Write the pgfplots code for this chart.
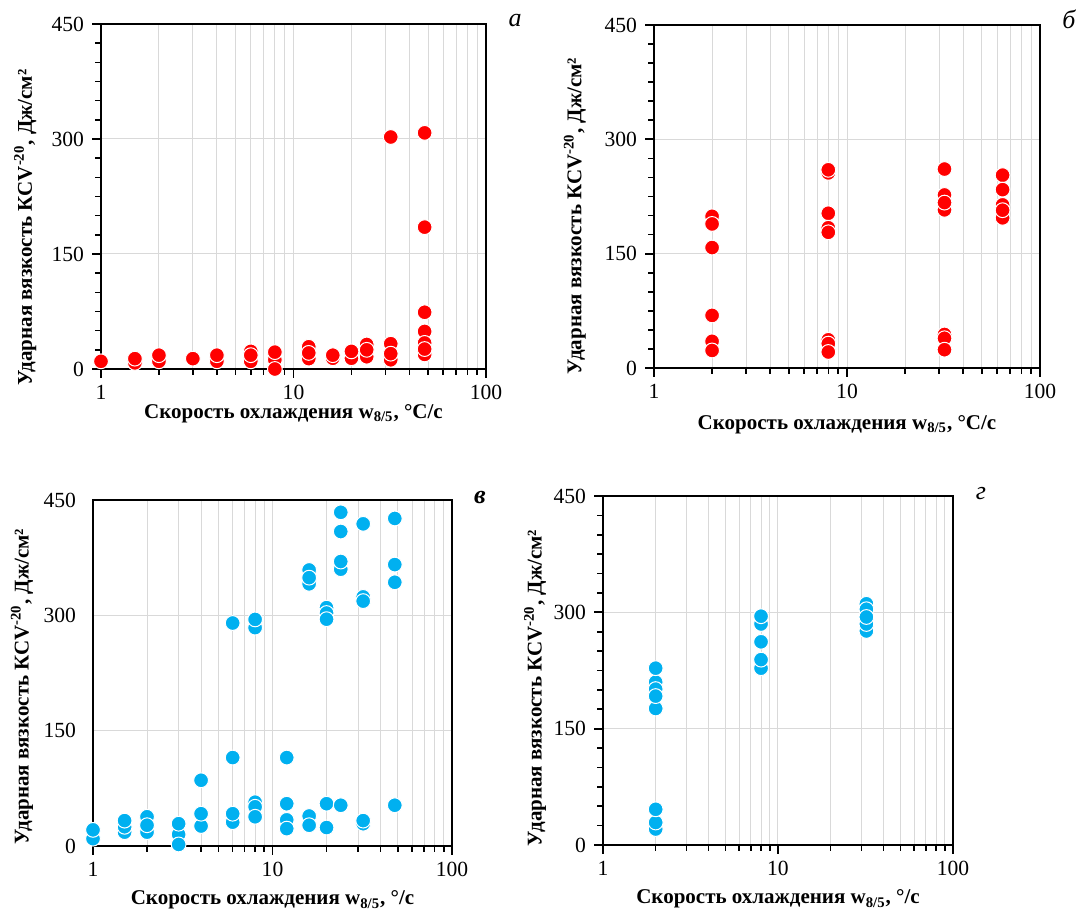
\documentclass[border=0pt]{standalone}
\usepackage{fontspec}
\setmainfont{Liberation Serif}
\usepackage{pgfplots}
\pgfplotsset{compat=1.18}
\definecolor{myred}{RGB}{255,0,0}
\definecolor{myblue}{RGB}{0,176,240}
\definecolor{gridc}{RGB}{217,217,217}
\pgfplotsset{
  every axis/.append style={
    scale only axis, ymin=0, ymax=450,
    xtick={1,10,100}, xticklabels={1,10,100},
    minor xtick={2,3,4,5,6,7,8,9,20,30,40,50,60,70,80,90},
    ytick={0,150,300,450},
    xmajorgrids, xminorgrids, ymajorgrids,
    major grid style={gridc, line width=0.5pt},
    minor grid style={gridc, line width=0.5pt},
    axis line style={line width=1pt},
    tick align=outside, tick pos=left,
    major tick length=4.5pt, minor tick length=3pt,
    tick label style={font=\fontsize{10.8}{12}\selectfont},
    yticklabel style={xshift=-0.5pt},
    label style={font=\bfseries\fontsize{10.5}{12}\selectfont},
    ylabel={Ударная вязкость КСV\textsuperscript{-20}, Дж/см²},
  },
  every tick/.style={black, line width=0.9pt},
  every major tick/.append style={black, line width=0.9pt},
  every minor tick/.append style={black, line width=0.8pt},
}
\begin{document}
\begin{tikzpicture}
\useasboundingbox (0,0) rectangle (539pt,458pt);
% panel a
\begin{axis}[xmode=log, xmin=1, xmax=100, anchor=south west,
  /pgf/number format/assume math mode=true,
  at={(50.5pt,273.5pt)}, width=192.5pt, height=172.5pt,
  minor ytick={25,50,75,100,125,175,200,225,250,275,325,350,375,400,425},
  xlabel={Скорость охлаждения w\textsubscript{8/5}, °C/c},
  xlabel style={at={(axis description cs:0.5,-0.13)}, anchor=center},
  ylabel style={at={(axis description cs:-0.197,0.41)}, anchor=center}]
\addplot[only marks, mark=*, mark size=3.7pt, mark options={fill=myred, draw=white, line width=0.5pt}] coordinates {
(1,10) (1.5,8) (1.5,13.5) (2,10) (2,18) (3,13.5) (4,10) (4,18)
(6,10) (6,23) (6,18) (8,12) (8,0) (8,22)
(12,13.5) (12,29) (12,21) (16,14) (16,18) (20,14) (20,23)
(24,16) (24,32) (24,25) (32,302.6) (32,12) (32,33) (32,20)
(48,308) (48,185) (48,74) (48,49) (48,34) (48,19) (48,26)
};
\end{axis}
% panel b
\begin{axis}[xmode=log, xmin=1, xmax=100, anchor=south west,
  /pgf/number format/assume math mode=true,
  at={(327pt,274pt)}, width=193pt, height=171.5pt,
  minor ytick={25,50,75,100,125,175,200,225,250,275,325,350,375,400,425},
  xlabel={Скорость охлаждения w\textsubscript{8/5}, °C/c},
  xlabel style={at={(axis description cs:0.5,-0.166)}, anchor=center},
  ylabel style={at={(axis description cs:-0.205,0.443)}, anchor=center}]
\addplot[only marks, mark=*, mark size=3.7pt, mark options={fill=myred, draw=white, line width=0.5pt}] coordinates {
(2,199) (2,189) (2,158) (2,69) (2,35) (2,23)
(8,256) (8,260) (8,203) (8,184) (8,178) (8,37) (8,32) (8,21)
(32,261) (32,227) (32,207.5) (32,217) (32,44) (32,39) (32,24)
(64,253) (64,234) (64,197) (64,214) (64,207)
};
\end{axis}
% panel c
\begin{axis}[xmode=log, xmin=1, xmax=100, anchor=south west,
  /pgf/number format/assume math mode=true,
  at={(46.5pt,35pt)}, width=179.5pt, height=173pt,
  ytick style={draw=none},
  xlabel={Скорость охлаждения w\textsubscript{8/5}, °/c},
  xlabel style={at={(axis description cs:0.5,-0.156)}, anchor=center},
  ylabel style={at={(axis description cs:-0.198,0.46)}, anchor=center}]
\addplot[only marks, mark=*, mark size=3.7pt, mark options={fill=myblue, draw=white, line width=0.5pt}] coordinates {
(1,9.5) (1,21)
(1.5,18) (1.5,25) (1.5,33)
(2,18) (2,38) (2,27)
(3,15) (3,29) (3,2)
(4,26) (4,42) (4,85.5)
(6,31) (6,42) (6,115) (6,290)
(8,284) (8,294.7) (8,57) (8,51) (8,38)
(12,115) (12,34) (12,55) (12,22.6)
(16,359) (16,341) (16,349) (16,39) (16,27)
(20,310) (20,303) (20,295) (20,55) (20,24)
(24,434) (24,409) (24,360) (24,370) (24,53)
(32,419) (32,324) (32,318.5) (32,29) (32,33)
(48,426) (48,366) (48,343) (48,53)
};
\end{axis}
% panel d
\begin{axis}[xmode=log, xmin=1, xmax=100, anchor=south west,
  /pgf/number format/assume math mode=true,
  at={(301.5pt,35.5pt)}, width=175pt, height=174.5pt,
  minor ytick={25,50,75,100,125,175,200,225,250,275,325,350,375,400,425},
  xlabel={Скорость охлаждения w\textsubscript{8/5}, °/c},
  xlabel style={at={(axis description cs:0.5,-0.155)}, anchor=center},
  ylabel style={at={(axis description cs:-0.194,0.45)}, anchor=center}]
\addplot[only marks, mark=*, mark size=3.7pt, mark options={fill=myblue, draw=white, line width=0.5pt}] coordinates {
(2,20.6) (2,29) (2,46) (2,176) (2,210) (2,201) (2,192) (2,228)
(8,228) (8,239) (8,262) (8,285) (8,295)
(32,276) (32,285) (32,311) (32,304) (32,294)
};
\end{axis}
\node[font=\itshape\fontsize{13}{15}\selectfont] at (257.5pt,447.5pt) {а};
\node[font=\itshape\fontsize{13}{15}\selectfont] at (534.5pt,448.5pt) {б};
\node[font=\bfseries\itshape\fontsize{13}{15}\selectfont] at (240pt,209pt) {в};
\node[font=\itshape\fontsize{13}{15}\selectfont] at (490.5pt,211pt) {г};
\end{tikzpicture}
\end{document}
